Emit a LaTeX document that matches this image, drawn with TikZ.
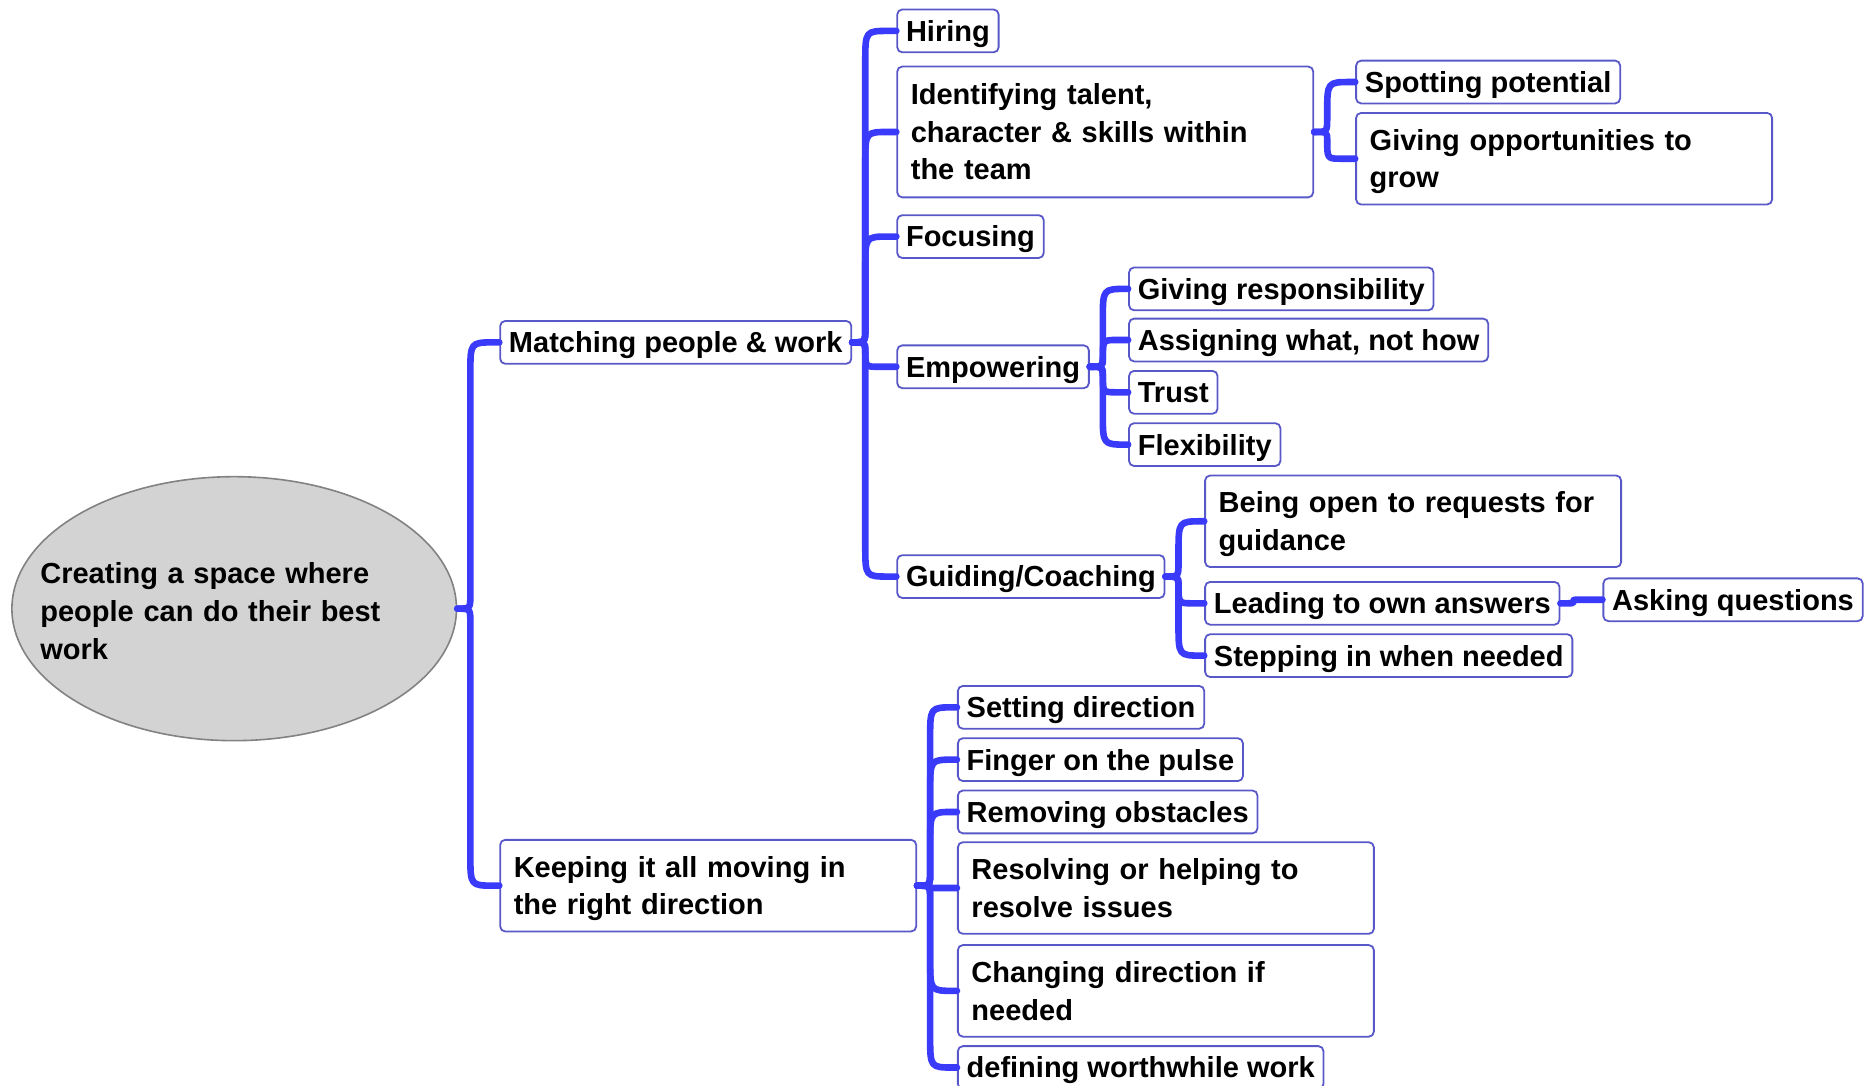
\documentclass[tikz,border=0pt]{standalone}
\usepackage{fontspec}
\setmainfont{Liberation Sans}
\usetikzlibrary{calc,shapes.geometric}
\definecolor{linkc}{RGB}{58,58,250}
\definecolor{boxc}{RGB}{88,88,200}
\definecolor{rootfill}{RGB}{211,211,211}
\definecolor{rootdraw}{RGB}{130,130,130}
\tikzset{
  branch/.style={to path={
    let \p1=(\tikztostart), \p2=(\tikztotarget),
        \n1={abs(\y2-\y1)},
        \n2={ifthenelse(\y2>\y1,1,-1)},
        \n3={min(1,\n1/22.6)}
    in (\p1) .. controls ({\x1+6.54pt},\y1) .. ({\x1+6.54pt},{\y1+(\n2)*(\n3)*7.13pt})
       -- ({\x1+6.54pt},{\y2-(\n2)*(\n3)*15.5pt})
       .. controls ({\x1+6.54pt},\y2) .. ({\x1+6.54pt+(\n3)*11.9pt},\y2)
       -- (\p2)
  }},
  conn/.style={draw=linkc, line width=3.3pt, line cap=round, line join=round},
  box/.style={draw=boxc, line width=0.9pt, fill=white, rounded corners=2.5pt,
    anchor=west, inner xsep=4.4pt, inner ysep=0pt, minimum height=21.4pt,
    text height=12.2pt, text depth=1.8pt},
  mbox/.style={draw=boxc, line width=0.9pt, fill=white, rounded corners=2.5pt,
    anchor=west, inner xsep=6.8pt, inner ysep=0pt, text width=194.4pt, align=left,
    text height=12.2pt},
  twoline/.style={mbox, minimum height=45.8pt, text depth=20.6pt},
  threeline/.style={mbox, minimum height=65.4pt, text depth=39.4pt},
}
\begin{document}
\begin{tikzpicture}[x=0.5944pt,y=-0.5944pt,
  every node/.append style={font=\fontsize{14.5pt}{18.8pt}\selectfont\bfseries}]
\useasboundingbox (0,0) rectangle (1568,913);
% root
\node[ellipse, draw=rootdraw, line width=0.8pt, fill=rootfill, minimum width=222.3pt, minimum height=132pt, inner sep=0pt] (root) at (197,512) {};
\node[text width=193.8pt, align=left, inner sep=0pt] (roottxt) at (197,514) {Creating a space where\\people can do their best\\work};
% level 1
\node[box] (match) at (420,288) {Matching people \& work};
\node[twoline] (keep) at (420,745) {Keeping it all moving in\\the right direction};
% level 2 (matching)
\node[box] (hiring) at (754,26) {Hiring};
\node[threeline] (ident) at (754,111) {Identifying talent,\\character \& skills within\\the team};
\node[box] (focus) at (754,199) {Focusing};
\node[box] (empow) at (754,308.5) {Empowering};
\node[box] (guide) at (754,485) {Guiding/Coaching};
% level 3
\node[box] (spot) at (1140,69) {Spotting potential};
\node[twoline] (oppo) at (1140,133.5) {Giving opportunities to\\grow};
\node[box] (resp) at (949,243) {Giving responsibility};
\node[box] (assign) at (949,286) {Assigning what, not how};
\node[box] (trust) at (949,330) {Trust};
\node[box] (flex) at (949,374) {Flexibility};
\node[twoline] (open) at (1013,438.5) {Being open to requests for\\guidance};
\node[box] (lead) at (1013,507.5) {Leading to own answers};
\node[box] (stepin) at (1013,551.5) {Stepping in when needed};
\node[box] (ask) at (1348,504.5) {Asking questions};
% level 2 (keeping)
\node[box] (setdir) at (805,595) {Setting direction};
\node[box] (finger) at (805,639) {Finger on the pulse};
\node[box] (remove) at (805,683) {Removing obstacles};
\node[twoline] (resolve) at (805,747) {Resolving or helping to\\resolve issues};
\node[twoline] (change) at (805,833.5) {Changing direction if\\needed};
\node[box] (define) at (805,898) {defining worthwhile work};
% connectors
\foreach \c in {match,keep} \draw[conn] (root.east) to[branch] (\c.west);
\foreach \c in {hiring,ident,focus,empow,guide} \draw[conn] (match.east) to[branch] (\c.west);
\foreach \c in {spot,oppo} \draw[conn] (ident.east) to[branch] (\c.west);
\foreach \c in {resp,assign,trust,flex} \draw[conn] (empow.east) to[branch] (\c.west);
\foreach \c in {open,lead,stepin} \draw[conn] (guide.east) to[branch] (\c.west);
\draw[conn] (lead.east) to[branch] (ask.west);
\foreach \c in {setdir,finger,remove,resolve,change,define} \draw[conn] (keep.east) to[branch] (\c.west);
\end{tikzpicture}
\end{document}
